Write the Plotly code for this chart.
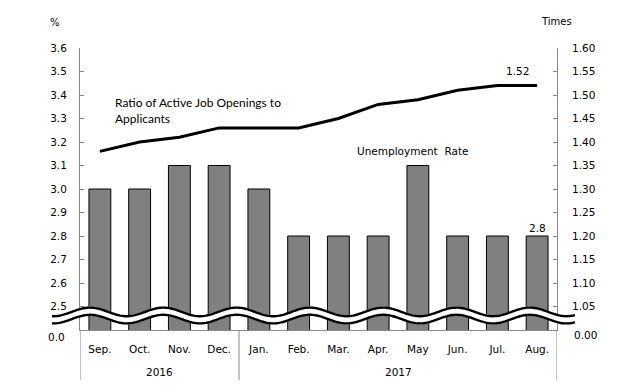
import numpy as np
import plotly.graph_objects as go

# ---- data ----
months = ["Sep.", "Oct.", "Nov.", "Dec.", "Jan.", "Feb.", "Mar.", "Apr.", "May", "Jun.", "Jul.", "Aug."]
years = ["2016", "2017"]
year_month_counts = [4, 8]
unemployment = [3.0, 3.0, 3.1, 3.1, 3.0, 2.8, 2.8, 2.8, 3.1, 2.8, 2.8, 2.8]
job_ratio = [1.38, 1.40, 1.41, 1.43, 1.43, 1.43, 1.45, 1.48, 1.49, 1.51, 1.52, 1.52]
left_ticks = [2.5, 2.6, 2.7, 2.8, 2.9, 3.0, 3.1, 3.2, 3.3, 3.4, 3.5, 3.6]
right_ticks = [1.05, 1.10, 1.15, 1.20, 1.25, 1.30, 1.35, 1.40, 1.45, 1.50, 1.55, 1.60]

# ---- geometry (pixels) ----
W, H = 640, 386
L, R, T, B = 80, 83, 48, 56
PW, PH = W - L - R, H - T - B


def px(xp):
    return (xp - L) / PW


def py(yp):
    return (H - B - yp) / PH


FONT = "DejaVu Sans"
AX = "#8a8a8a"
xs = list(range(len(months)))

fig = go.Figure()
fig.add_trace(go.Bar(
    x=xs, y=unemployment, width=0.55,
    marker=dict(color="#808080", line=dict(color="#000000", width=1)),
    showlegend=False, hoverinfo="skip",
))
fig.add_trace(go.Scatter(
    x=xs, y=job_ratio, yaxis="y2", mode="lines",
    line=dict(color="#000000", width=3),
    showlegend=False, hoverinfo="skip",
))

shapes = []
# wavy axis-break band
wx = np.linspace(52, 575, 300)
center = 315.5 - 4.3 * np.cos(2 * np.pi * (wx - 90) / 73.3)
top = center - 3.6
bot = center + 3.6


def path(xa, ya):
    return "M " + " L ".join(f"{px(a):.5f},{py(b):.5f}" for a, b in zip(xa, ya))


fill_path = path(np.concatenate([wx, wx[::-1]]), np.concatenate([top - 1, (bot + 1)[::-1]])) + " Z"
shapes.append(dict(type="path", path=fill_path, xref="paper", yref="paper",
                   fillcolor="white", line=dict(width=0), layer="above"))
for curve in (top, bot):
    shapes.append(dict(type="path", path=path(wx, curve), xref="paper", yref="paper",
                       line=dict(color="black", width=2.4), layer="above"))

# category group dividers below the axis
edges = [-0.5]
for c in year_month_counts:
    edges.append(edges[-1] + c)
for e in edges:
    shapes.append(dict(type="line", xref="x", yref="paper", x0=e, x1=e,
                       y0=py(330), y1=py(380), line=dict(color=AX, width=1)))

annotations = []
start = -0.5
for yr, c in zip(years, year_month_counts):
    annotations.append(dict(x=start + c / 2, y=py(372), xref="x", yref="paper", text=yr,
                            showarrow=False, xanchor="center", yanchor="middle",
                            font=dict(family=FONT, size=10.5, color="black")))
    start += c

annotations += [
    dict(x=px(55), y=py(23), xref="paper", yref="paper", text="%", showarrow=False,
         xanchor="center", yanchor="middle", font=dict(family=FONT, size=10, color="black")),
    dict(x=px(556), y=py(22), xref="paper", yref="paper", text="Times", showarrow=False,
         xanchor="center", yanchor="middle", font=dict(family=FONT, size=10, color="black")),
    dict(x=px(67), y=py(337), xref="paper", yref="paper", text="0.0", showarrow=False,
         xanchor="right", yanchor="middle", font=dict(family=FONT, size=10.5, color="black")),
    dict(x=px(572), y=py(335), xref="paper", yref="paper", text="0.00", showarrow=False,
         xanchor="left", yanchor="middle", font=dict(family=FONT, size=10.5, color="black")),
    dict(x=px(113), y=py(110), xref="paper", yref="paper",
         text="Ratio of Active Job Openings to<br>Applicants", showarrow=False,
         xanchor="left", yanchor="middle", align="left",
         font=dict(family="Lato", size=12, color="black")),
    dict(x=px(355), y=py(151), xref="paper", yref="paper", text="Unemployment  Rate",
         showarrow=False, xanchor="left", yanchor="middle",
         font=dict(family=FONT, size=10.5, color="black")),
    dict(x=xs[-1], y=job_ratio[-1], xref="x", yref="y2", text=f"{job_ratio[-1]:.2f}",
         showarrow=False, xshift=-20, yshift=15, xanchor="center", yanchor="middle",
         font=dict(family=FONT, size=10.5, color="black")),
    dict(x=xs[-1], y=unemployment[-1], xref="x", yref="y", text=f"{unemployment[-1]:.1f}",
         showarrow=False, yshift=8, xanchor="center", yanchor="middle",
         font=dict(family=FONT, size=10.5, color="black")),
]

fig.update_layout(
    width=W, height=H,
    margin=dict(l=L, r=R, t=T, b=B, pad=0),
    paper_bgcolor="white", plot_bgcolor="white",
    bargap=0.45,
    xaxis=dict(range=[-0.5, 11.5], tickvals=xs, ticktext=months, showline=True,
               linecolor=AX, linewidth=1, ticks="", showgrid=False, zeroline=False,
               tickfont=dict(family=FONT, size=10.5, color="black"), ticklabelstandoff=9),
    yaxis=dict(range=[2.4, 3.6], tickvals=left_ticks, ticktext=[f"{v:.1f}" for v in left_ticks],
               showline=True, linecolor=AX, linewidth=1, ticks="inside", ticklen=4,
               tickcolor=AX, showgrid=False, zeroline=False,
               tickfont=dict(family=FONT, size=10.5, color="black"), ticklabelstandoff=10),
    yaxis2=dict(range=[1.0, 1.6], tickvals=right_ticks, ticktext=[f"{v:.2f}" for v in right_ticks],
                overlaying="y", side="right", showline=True, linecolor=AX, linewidth=1,
                ticks="inside", ticklen=4, tickcolor=AX, showgrid=False, zeroline=False,
                tickfont=dict(family=FONT, size=10.5, color="black"), ticklabelstandoff=12),
    shapes=shapes,
    annotations=annotations,
)

fig.write_html(
    "out.html",
    config={"displayModeBar": False},
    post_script="document.body.style.margin='0';document.body.style.overflow='hidden';",
)
